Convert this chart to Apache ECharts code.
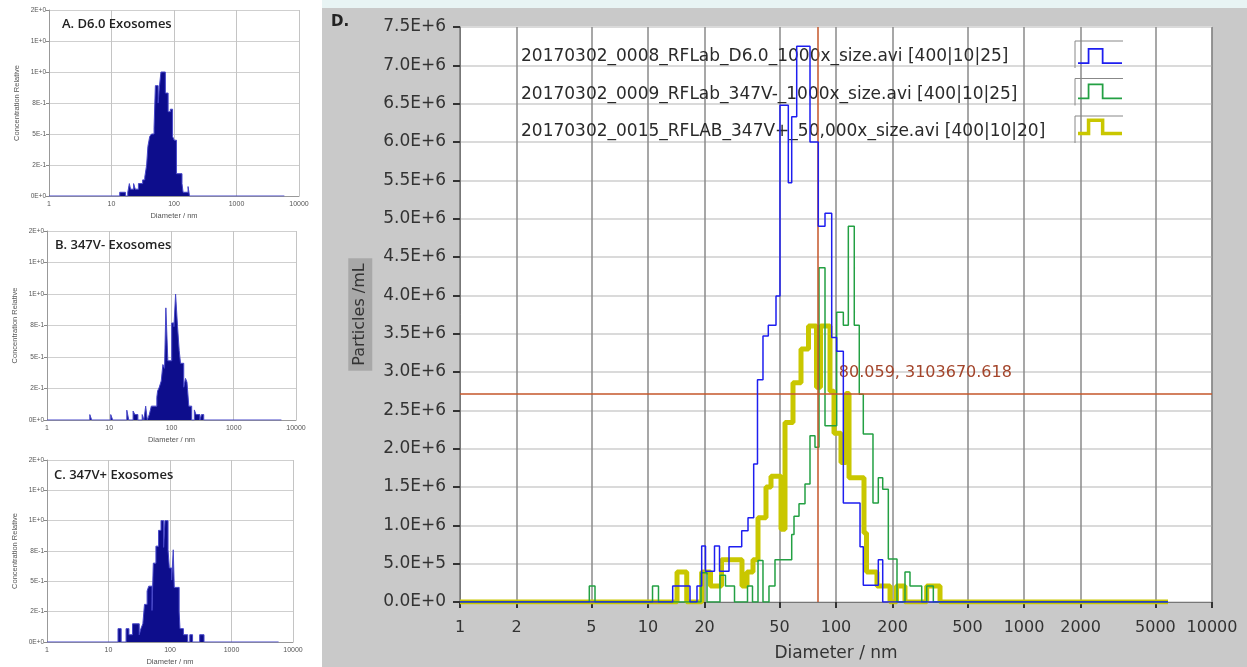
<!DOCTYPE html>
<html><head><meta charset="utf-8">
<script src="https://cdn.jsdelivr.net/npm/echarts@6/dist/echarts.min.js"></script>
<style>html,body{margin:0;padding:0;background:#fff}#c{width:1247px;height:667px}</style>
</head><body><div id="c"></div>
<script>
// ---- data (diameter nm, value); each value holds until the next diameter ----
const seriesNames = [
  '20170302_0008_RFLab_D6.0_1000x_size.avi [400|10|25]',
  '20170302_0009_RFLab_347V-_1000x_size.avi [400|10|25]',
  '20170302_0015_RFLAB_347V+_50,000x_size.avi [400|10|20]'
];
const d60 = [[1,0],[13.53,210000],[16.73,0],[18.22,210000],[19.30,730000],[20.23,400000],[22.58,730000],[24.01,400000],[26.97,720000],[31.51,930000],[34.04,1100000],[36.49,1800000],[38.23,2900000],[40.89,3470000],[43.64,3610000],[47.96,3990000],[50.36,6480000],[55.76,5470000],[58.13,6330000],[61.80,7250000],[72.73,6000000],[80.51,4900000],[87.40,5070000],[94.87,3450000],[100.85,3270000],[109.4,1290000],[134.2,720000],[139.7,220000],[167.9,550000],[177.2,0],[5834,0]];
const v347minus = [[1,0],[4.873,210000],[5.225,0],[10.57,210000],[11.37,0],[19.14,380000],[20.60,0],[24.15,350000],[25.83,210000],[28.85,0],[33.83,210000],[35.96,0],[38.47,540000],[40.89,0],[44.01,210000],[47.37,550000],[58.13,880000],[59.79,1120000],[63.57,1280000],[68.41,1540000],[72.73,2170000],[77.31,2020000],[81.20,4360000],[87.40,2300000],[100.85,3780000],[109.4,3610000],[116.3,4900000],[125.1,3610000],[133.0,2710000],[139.7,2190000],[157.3,1290000],[167.9,1620000],[177.2,1470000],[189.8,560000],[211.1,0],[232.8,390000],[247.5,210000],[285.7,0],[303.7,210000],[329.4,0],[5834,0]];
const v347plus = [[1,0],[14.27,390000],[16.07,0],[19.30,390000],[21.5,210000],[24.6,550000],[31.62,210000],[33.62,390000],[36.18,550000],[38.47,1100000],[42.43,1500000],[45.11,1640000],[50.99,950000],[53.55,2340000],[59.06,2860000],[65.14,3300000],[71.41,3600000],[78.75,2800000],[82.72,3600000],[92.92,2750000],[97.58,2200000],[106.3,1820000],[113.0,2720000],[117.3,1620000],[140.9,900000],[145.3,390000],[165.2,210000],[193.8,0],[209.8,210000],[232.8,0],[303.7,210000],[357.5,0],[5834,0]];
// relative concentration panels A, B, C
const relA = [[1,0],[13.53,0.03],[16.73,0],[18.22,0.03],[19.30,0.10],[20.23,0.055],[22.58,0.10],[24.01,0.055],[26.97,0.10],[31.51,0.13],[34.04,0.15],[36.49,0.25],[38.23,0.40],[40.89,0.48],[43.64,0.50],[47.96,0.55],[50.36,0.89],[55.76,0.75],[58.13,0.87],[61.80,1.0],[72.73,0.83],[80.51,0.68],[87.40,0.70],[94.87,0.48],[100.85,0.45],[109.4,0.18],[134.2,0.10],[139.7,0.03],[167.9,0.076],[177.2,0],[5834,0]];
const relB = [[1,0],[4.873,0.043],[5.225,0],[10.57,0.043],[11.37,0],[19.14,0.078],[20.60,0],[24.15,0.071],[25.83,0.043],[28.85,0],[33.83,0.043],[35.96,0],[38.47,0.11],[40.89,0],[44.01,0.043],[47.37,0.11],[58.13,0.18],[59.79,0.23],[63.57,0.26],[68.41,0.31],[72.73,0.44],[77.31,0.41],[81.20,0.89],[87.40,0.47],[100.85,0.77],[109.4,0.74],[116.3,1.0],[125.1,0.74],[133.0,0.55],[139.7,0.45],[157.3,0.26],[167.9,0.33],[177.2,0.30],[189.8,0.11],[211.1,0],[232.8,0.08],[247.5,0.043],[285.7,0],[303.7,0.043],[329.4,0],[5834,0]];
const relC = [[1,0],[14.27,0.11],[16.07,0],[19.30,0.11],[21.5,0.06],[24.6,0.15],[31.62,0.06],[33.62,0.11],[36.18,0.15],[38.47,0.31],[42.43,0.42],[45.11,0.46],[50.99,0.26],[53.55,0.65],[59.06,0.79],[65.14,0.92],[71.41,1.0],[78.75,0.78],[82.72,1.0],[92.92,0.76],[97.58,0.61],[106.3,0.51],[113.0,0.76],[117.3,0.45],[140.9,0.25],[145.3,0.11],[165.2,0.06],[193.8,0],[209.8,0.06],[232.8,0],[303.7,0.06],[357.5,0],[5834,0]];
const panelTitles = ['A. D6.0 Exosomes', 'B. 347V- Exosomes', 'C. 347V+ Exosomes'];
const xTicksD = [1,2,5,10,20,50,100,200,500,1000,2000,5000,10000];
const yTickLabelsD = ['0.0E+0','5.0E+5','1.0E+6','1.5E+6','2.0E+6','2.5E+6','3.0E+6','3.5E+6','4.0E+6','4.5E+6','5.0E+6','5.5E+6','6.0E+6','6.5E+6','7.0E+6','7.5E+6'];
const yTickLabelsSmall = ['0E+0','2E-1','5E-1','8E-1','1E+0','1E+0','2E+0'];
const cursorX = 80.059, cursorY = 2720000, cursorLabel = '80.059, 3103670.618';

const F = 'DejaVu Sans';
const plainNum = v => String(Math.round(v));
const chart = echarts.init(document.getElementById('c'));
const smallGrids = [
  {left:49, top:10, width:250, height:186},
  {left:47, top:231, width:249, height:189},
  {left:47, top:460, width:246, height:185}
];
const rel = [relA, relB, relC];
const titleTops = [18, 239, 469];
const titleLefts = [62, 55, 54];

const grid = smallGrids.concat([{left:460, top:27, right:35, bottom:64, show:true, backgroundColor:'#fff', borderColor:'#777', borderWidth:1}]);
const xAxis = [], yAxis = [], series = [];
smallGrids.forEach((g, i) => {
  xAxis.push({type:'log', logBase:10, min:1, max:10000, gridIndex:i,
    axisLine:{lineStyle:{color:'#999'}}, axisTick:{show:false},
    axisLabel:{fontSize:7, color:'#555', margin:5, fontFamily:'Liberation Sans', formatter:plainNum},
    splitLine:{show:true, lineStyle:{color:'#c4c4c4'}},
    name:'Diameter / nm', nameLocation:'middle', nameGap:16,
    nameTextStyle:{fontSize:7.5, color:'#555', fontFamily:'Liberation Sans'}});
  yAxis.push({type:'value', min:0, max:1.5, interval:0.25, gridIndex:i,
    axisLine:{show:true, lineStyle:{color:'#999'}}, axisTick:{show:true, length:3, lineStyle:{color:'#888'}},
    axisLabel:{fontSize:6.5, color:'#555', margin:3, fontFamily:'Liberation Sans',
      formatter: v => yTickLabelsSmall[Math.round(v/0.25)]},
    splitLine:{show:true, lineStyle:{color:'#cfcfcf'}},
    name:'Concentration Relative', nameLocation:'middle', nameGap:28, nameRotate:90,
    nameTextStyle:{fontSize:7.5, color:'#555', fontFamily:'Liberation Sans'}});
  series.push({type:'line', step:'end', xAxisIndex:i, yAxisIndex:i, data:rel[i],
    symbol:'none', lineStyle:{color:'#4646c8', width:1}, areaStyle:{color:'#0d0d8c', opacity:1}, silent:true});
});
xAxis.push({type:'log', logBase:10, min:1, max:10000, gridIndex:3,
  axisLine:{show:true, lineStyle:{color:'#777'}},
  axisTick:{show:true, customValues:xTicksD, length:6, lineStyle:{color:'#333', width:2}},
  axisLabel:{customValues:xTicksD, fontSize:16, color:'#333', margin:18, fontFamily:F, formatter:plainNum},
  splitLine:{show:true, lineStyle:{color:'#8a8a8a', width:1.5}},
  name:'Diameter / nm', nameLocation:'middle', nameGap:43,
  nameTextStyle:{fontSize:17, color:'#333', fontFamily:F}});
yAxis.push({type:'value', min:0, max:7500000, interval:500000, gridIndex:3,
  axisLine:{show:true, lineStyle:{color:'#777'}},
  axisTick:{show:true, length:7, lineStyle:{color:'#333', width:2}},
  axisLabel:{fontSize:17, color:'#333', margin:14, fontFamily:F,
    formatter: v => yTickLabelsD[Math.round(v/500000)]},
  splitLine:{show:true, lineStyle:{color:'#dadada', width:2}},
  name:'Particles /mL', nameLocation:'middle', nameGap:79, nameRotate:90,
  nameTextStyle:{fontSize:16, color:'#333', fontFamily:F, backgroundColor:'#a8a8a8', padding:[4,5,4,5]}});

const colors = ['#1e1ef0', '#23a043', '#c9c700'];
const widths = [1.5, 1.5, 5];
const dData = [d60, v347minus, v347plus];
const zs = [5, 4, 3];
dData.forEach((d, i) => {
  const s = {type:'line', step:'end', name:seriesNames[i], xAxisIndex:3, yAxisIndex:3, data:d,
    symbol:'none', showSymbol:false, z:zs[i], color:colors[i],
    lineStyle:{color:colors[i], width:widths[i]}, silent:true};
  if (i === 0) {
    s.markLine = {silent:true, symbol:['none','none'], animation:false,
      lineStyle:{color:'#c4562a', width:1.5, type:'solid'}, label:{show:false},
      data:[{xAxis:cursorX}, {yAxis:cursorY}]};
    s.markPoint = {silent:true, animation:false, symbol:'circle', symbolSize:0,
      data:[{coord:[cursorX, cursorY]}],
      label:{show:true, position:'right', offset:[16,-21], formatter:cursorLabel,
        color:'#a3452b', fontSize:16, fontFamily:F}};
  }
  series.push(s);
});

const stepIcon = 'path://M0,17L11,17L11,1L29,1L29,17L50,17L50,19L27,19L27,3L13,3L13,19L0,19Z';
const stepIconThick = 'path://M0,15L10,15L10,0L30,0L30,15L50,15L50,19L26,19L26,4L14,4L14,19L0,19Z';

const titles = [{text:'D.', left:331, top:15, padding:0, textStyle:{fontSize:15, fontWeight:'bold', color:'#222', fontFamily:F}}];
panelTitles.forEach((t, i) => titles.push({text:t, left:titleLefts[i], top:titleTops[i], padding:0,
  textStyle:{fontSize:13, fontWeight:600, color:'#222', fontFamily:'Open Sans'}}));

const graphics = [
  {type:'rect', shape:{x:322, y:0, width:925, height:8}, style:{fill:'#e8f4f4'}, z:-20, silent:true},
  {type:'rect', shape:{x:322, y:8, width:925, height:659}, style:{fill:'#c9c9c9'}, z:-20, silent:true}
];
[0,1,2].forEach(i => {
  const y = 41 + i*37.5;
  graphics.push({type:'polyline', shape:{points:[[1075,y+27],[1075,y],[1123,y]]}, style:{stroke:'#888', lineWidth:1, fill:null}, z:10, silent:true});
});

chart.setOption({
  animation:false,
  backgroundColor:'#fff',
  title:titles,
  graphic:graphics,
  grid:grid, xAxis:xAxis, yAxis:yAxis, series:series,
  legend:[
    {data:seriesNames, orient:'vertical', left:516, top:47, padding:0, itemWidth:0, itemHeight:20, itemGap:17.5,
      icon:'rect', selectedMode:false, textStyle:{fontSize:17, color:'#2a2a2a', fontFamily:F}},
    {data:[{name:seriesNames[0], icon:stepIcon},{name:seriesNames[1], icon:stepIcon},{name:seriesNames[2], icon:stepIconThick}],
      orient:'vertical', left:1078, top:46, padding:0, itemWidth:44, itemHeight:20, itemGap:17.5,
      selectedMode:false, formatter:() => '', textStyle:{fontSize:17}}
  ]
});
</script></body></html>
